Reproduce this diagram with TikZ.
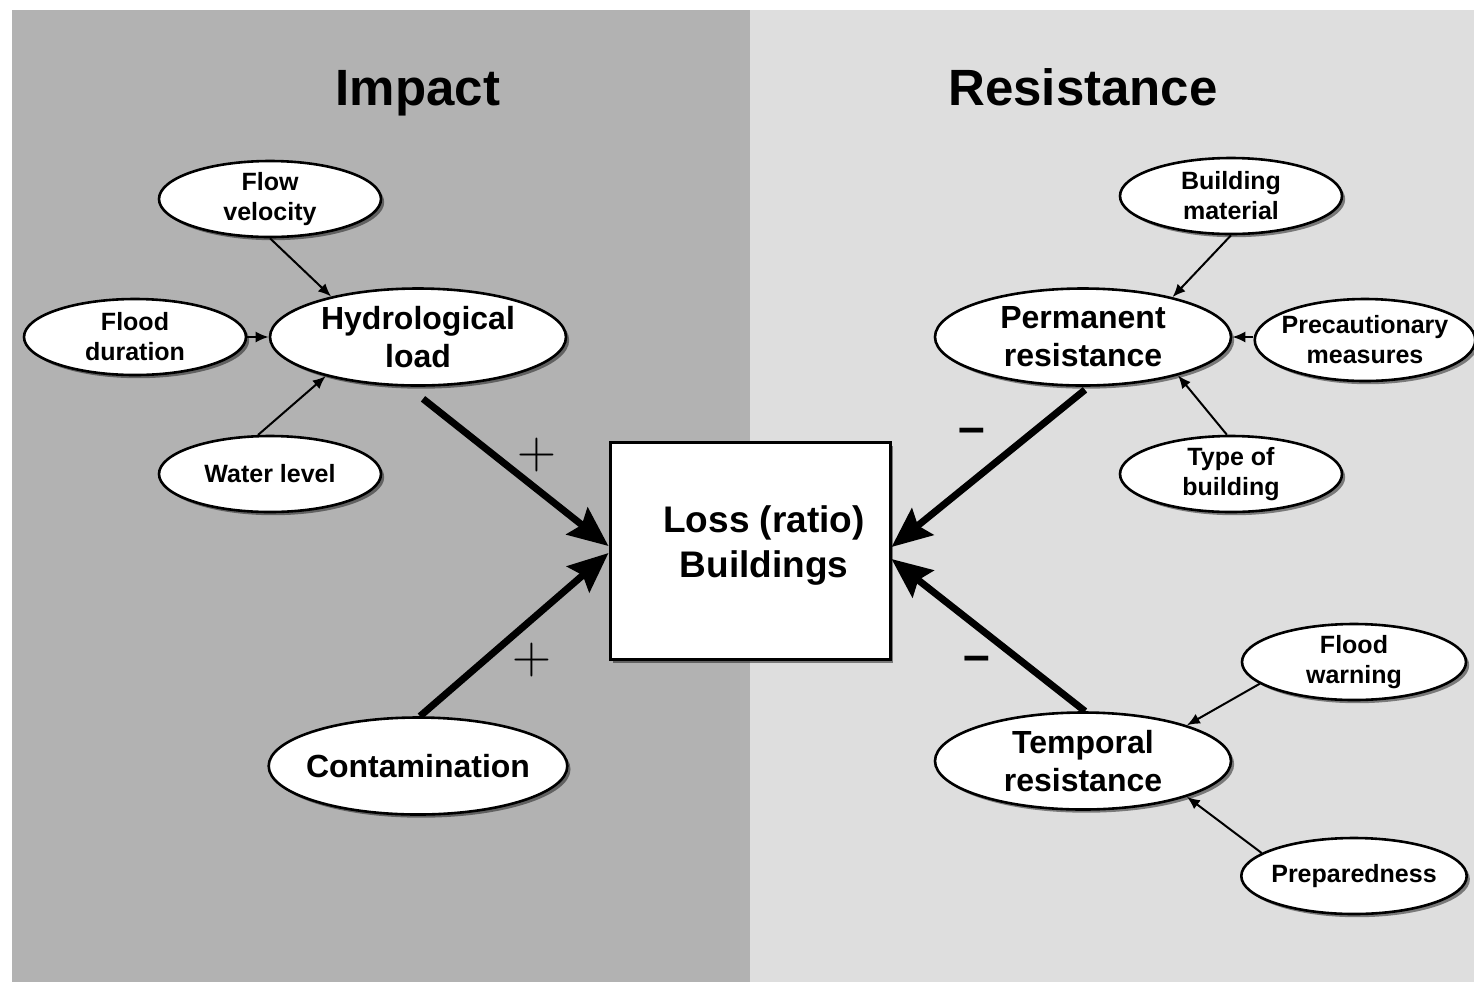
\documentclass[tikz,border=0pt]{standalone}
\usepackage{fontspec}
\setmainfont{Liberation Sans}
\newfontfamily\lmfont{Latin Modern Roman}
\usetikzlibrary{shapes.geometric,arrows.meta,shadows}
\definecolor{leftbg}{gray}{0.70}
\definecolor{rightbg}{gray}{0.87}
\begin{document}
\begin{tikzpicture}[x=0.5pt,y=-0.5pt,
  shadowed/.style={drop shadow={shadow xshift=1.6pt,shadow yshift=-1.6pt,fill=black,opacity=0.45}},
  oval/.style={ellipse,draw=black,line width=1.3pt,fill=white,inner sep=0pt,align=center,
    font=\bfseries\fontsize{12.5}{15}\selectfont,minimum width=111pt,minimum height=38pt,shadowed},
  bigoval/.style={oval,minimum width=148pt,minimum height=48.5pt,font=\bfseries\fontsize{16}{19}\selectfont},
  lossbox/.style={rectangle,draw=black,line width=1.5pt,fill=white,inner sep=0pt,
    minimum width=140pt,minimum height=108.5pt,shadowed},
  boxtext/.style={align=center,font=\bfseries\fontsize{18.5}{22.5}\selectfont,inner sep=0pt},
  thinarr/.style={-{Latex[length=6.5pt,width=5.5pt]},line width=1pt},
  thickarr/.style={-{Stealth[length=20pt,width=17pt,inset=3pt]},line width=3.5pt},
  title/.style={font=\bfseries\fontsize{25.5}{30}\selectfont,inner sep=0pt,anchor=base},
  plussign/.style={font=\lmfont\fontsize{27}{27}\selectfont,inner sep=0pt},
  minussign/.style={font=\bfseries\fontsize{24}{24}\selectfont,inner sep=0pt}]
\useasboundingbox (0,0) rectangle (1474,982);
\fill[white] (0,0) rectangle (1474,982);
\fill[leftbg] (12,10) rectangle (750,982);
\fill[rightbg] (750,10) rectangle (1474,982);

\node[title] (timpact) at (418,105) {Impact};
\node[title] (tresist) at (1083,105) {Resistance};

% left side
\node[oval] (flow) at (270,199) {Flow\\velocity};
\node[oval] (dur) at (135,337) {Flood\\duration};
\node[oval] (water) at (270,474) {Water level};
\node[bigoval] (hydro) at (418,337) {Hydrological\\load};
\node[bigoval,inner xsep=-3.2pt] (contam) at (418,766) {Contamination};

% box
\node[lossbox] (box) at (750,551) {};
\node[boxtext] (boxlabel) at (764,546) {Loss (ratio)\\Buildings};

% right side
\node[bigoval] (perm) at (1083,337) {Permanent\\resistance};
\node[oval] (bmat) at (1231,196) {Building\\material};
\node[oval,minimum width=109pt,minimum height=41pt,inner xsep=-2.7pt] (prec) at (1365,340) {Precautionary\\measures};
\node[oval] (type) at (1231,474) {Type of\\building};
\node[bigoval] (temp) at (1083,761) {Temporal\\resistance};
\node[oval,minimum width=112pt] (fwarn) at (1354,662) {Flood\\warning};
\node[oval,minimum width=112pt,inner xsep=-1.5pt] (prep) at (1354,876) {Preparedness};

% thin arrows
\draw[thinarr] (flow.south) -- (hydro.155);
\draw[thinarr] (dur.east) -- (hydro.west);
\draw[thinarr] (water.107) -- (hydro.203);
\draw[thinarr] (bmat.south) -- (perm.24);
\draw[thinarr] (prec.west |- perm.east) -- (perm.east);
\draw[thinarr] (type.96) -- (perm.-22);
\draw[thinarr] (fwarn.193) -- (temp.19);
\draw[thinarr] (prep.166) -- (temp.-19);

% thick arrows
\draw[thickarr] ([xshift=2.5pt,yshift=-6pt]hydro.south) -- ([yshift=2.5pt]box.west);
\draw[thickarr] ([xshift=1pt]contam.north) -- ([yshift=-1pt]box.west);
\draw[thickarr] ([xshift=1pt,yshift=-1.5pt]perm.south) -- ([yshift=2pt]box.east);
\draw[thickarr] ([xshift=1pt]temp.north) -- ([yshift=-4pt]box.east);

% signs
\node[plussign] (p1) at (537,455) {+};
\node[plussign] (p2) at (532,660) {+};
\node[minussign] (m1) at (972,436) {–};
\node[minussign] (m2) at (977,664) {–};
\end{tikzpicture}
\end{document}
